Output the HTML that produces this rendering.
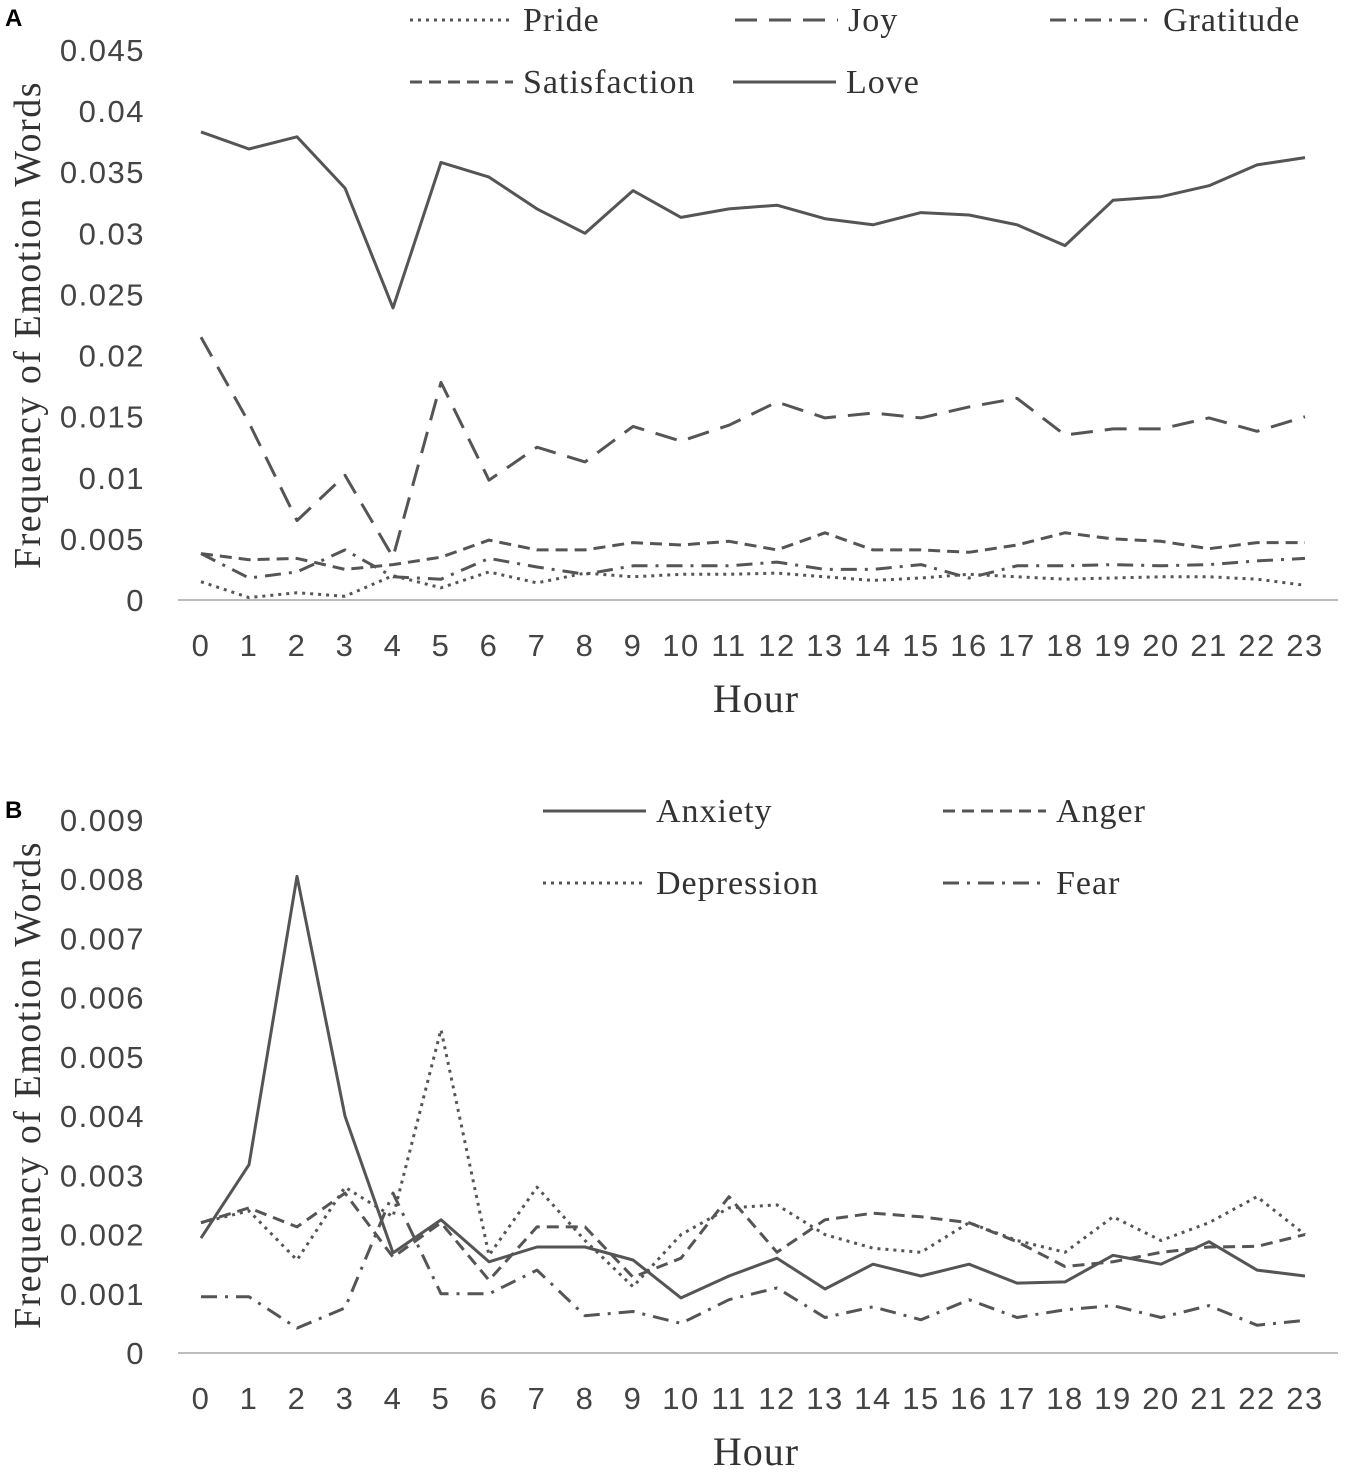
<!DOCTYPE html>
<html><head><meta charset="utf-8"><style>
body{margin:0;background:#fff;}
svg{display:block;}
.tk{font-family:"Liberation Sans",sans-serif;font-size:31px;fill:#444;letter-spacing:1.5px;}
.sr{font-family:"Liberation Serif",serif;fill:#333;}
</style></head><body>
<svg id="chart" width="1355" height="1478" viewBox="0 0 1355 1478"></svg>
<script>
const hours=[0,1,2,3,4,5,6,7,8,9,10,11,12,13,14,15,16,17,18,19,20,21,22,23];
const ticksA=[0,0.005,0.01,0.015,0.02,0.025,0.03,0.035,0.04,0.045];
const tickLabelsA=["0","0.005","0.01","0.015","0.02","0.025","0.03","0.035","0.04","0.045"];
const ticksB=[0,0.001,0.002,0.003,0.004,0.005,0.006,0.007,0.008,0.009];
const tickLabelsB=["0","0.001","0.002","0.003","0.004","0.005","0.006","0.007","0.008","0.009"];
const love=[0.0383,0.0369,0.0379,0.0337,0.0239,0.0358,0.0346,0.032,0.030,0.0335,0.0313,0.032,0.0323,0.0312,0.0307,0.0317,0.0315,0.0307,0.029,0.0327,0.033,0.0339,0.0356,0.0362];
const joy=[0.0215,0.0145,0.0065,0.0102,0.0035,0.0178,0.0098,0.0125,0.0113,0.0142,0.013,0.0143,0.0162,0.0149,0.0153,0.0149,0.0158,0.0165,0.0135,0.014,0.014,0.0149,0.0138,0.015];
const satisfaction=[0.0038,0.0033,0.0034,0.0025,0.0029,0.0035,0.0049,0.0041,0.0041,0.0047,0.0045,0.0048,0.0041,0.0055,0.0041,0.0041,0.0039,0.0045,0.0055,0.005,0.0048,0.0042,0.0047,0.0047];
const gratitude=[0.0038,0.0018,0.0023,0.0041,0.0019,0.0017,0.0034,0.0027,0.0021,0.0028,0.0028,0.0028,0.0031,0.0025,0.0025,0.0029,0.0018,0.0028,0.0028,0.0029,0.0028,0.0029,0.0032,0.0034];
const pride=[0.0015,0.0002,0.0006,0.0003,0.002,0.001,0.0023,0.0014,0.0022,0.0019,0.0021,0.0021,0.0022,0.0019,0.0016,0.0018,0.0021,0.0019,0.0017,0.0018,0.0019,0.0019,0.0017,0.0012];
const anxiety=[0.00194,0.00318,0.00805,0.0040,0.00169,0.00225,0.00154,0.00179,0.00179,0.00157,0.00093,0.0013,0.0016,0.00108,0.0015,0.0013,0.0015,0.00118,0.0012,0.00165,0.0015,0.00188,0.0014,0.0013];
const anger=[0.0022,0.00245,0.00213,0.0027,0.00162,0.0022,0.00123,0.00213,0.00213,0.00128,0.0016,0.00264,0.0017,0.00225,0.00236,0.0023,0.0022,0.00188,0.00146,0.00154,0.0017,0.00179,0.0018,0.002];
const depression=[0.0022,0.0024,0.00157,0.0028,0.0023,0.00546,0.00165,0.0028,0.0019,0.00112,0.002,0.00245,0.0025,0.002,0.00177,0.0017,0.0022,0.0019,0.0017,0.0023,0.0019,0.0022,0.00264,0.002];
const fear=[0.00095,0.00095,0.00042,0.00076,0.0027,0.001,0.001,0.0014,0.00063,0.0007,0.0005,0.0009,0.0011,0.0006,0.00078,0.00056,0.0009,0.0006,0.00073,0.0008,0.0006,0.0008,0.00047,0.00055];

const NS="http://www.w3.org/2000/svg";
const svg=document.getElementById('chart');
function mk(tag,attrs,parent){const e=document.createElementNS(NS,tag);for(const k in attrs)e.setAttribute(k,attrs[k]);(parent||svg).appendChild(e);return e;}
const styles={solid:"",dash:"22 12",shortdash:"12 7",dot:"3 5",dashdot:"16 8 3 8"};
function xOf(h){return 201+h*48;}
function panel(p){
  const yOf=v=>p.y0-v/p.max*(p.y0-p.yTop);
  const g=mk('g',{});
  
  
  const base=mk('line',{x1:178,x2:1338,y1:p.y0,y2:p.y0,stroke:'#bdbdbd','stroke-width':2},g);
  
  
  p.ticks.forEach((t,i)=>{const e=mk('text',{x:145,y:yOf(t)+11,'text-anchor':'end',class:'tk'},g);e.textContent=p.tickLabels[i];
    
    });
  hours.forEach(h=>{const e=mk('text',{x:xOf(h),y:p.y0+56,'text-anchor':'middle',class:'tk'},g);e.textContent=String(h);
    
    });
  const xt=mk('text',{x:756,y:p.y0+112,'text-anchor':'middle',class:'sr','font-size':40,'letter-spacing':1},g);xt.textContent='Hour';
  
  
  const yt=mk('text',{x:0,y:0,'text-anchor':'middle',class:'sr','font-size':38,'letter-spacing':1.5,transform:`translate(40,${p.yMid}) rotate(-90)`},g);yt.textContent='Frequency of Emotion Words';
  
  
  const lt=mk('text',{x:5,y:p.letterY,'font-family':'Liberation Sans, sans-serif','font-weight':'bold','font-size':24,fill:'#000'},g);lt.textContent=p.letter;
  
  
  p.series.forEach(s=>{
    const pts=s.data.map((v,i)=>xOf(hours[i])+','+yOf(v).toFixed(1)).join(' ');
    const pl=mk('polyline',{points:pts,fill:'none',stroke:'#555','stroke-width':3,'stroke-dasharray':styles[s.style],'stroke-linejoin':'round'},g);
    
    
    const le=mk('line',{x1:s.lx,x2:s.lx+103,y1:s.ly,y2:s.ly,stroke:'#555','stroke-width':3,'stroke-dasharray':styles[s.style]},g);
    
    
    const tx=mk('text',{x:s.lx+113,y:s.ly+11,class:'sr','font-size':34,'letter-spacing':1},g);tx.textContent=s.label;
    
    
  });
}
panel({name:'panel-a',y0:600,yTop:50,max:0.045,ticks:ticksA,tickLabels:tickLabelsA,yMid:325,letter:'A',letterY:26,
 series:[{label:'Pride',data:pride,style:'dot',lx:410,ly:20},{label:'Joy',data:joy,style:'dash',lx:735,ly:20},{label:'Gratitude',data:gratitude,style:'dashdot',lx:1050,ly:20},
 {label:'Satisfaction',data:satisfaction,style:'shortdash',lx:410,ly:82},{label:'Love',data:love,style:'solid',lx:733,ly:82}]});
panel({name:'panel-b',y0:1353,yTop:820,max:0.009,ticks:ticksB,tickLabels:tickLabelsB,yMid:1085,letter:'B',letterY:818,
 series:[{label:'Anxiety',data:anxiety,style:'solid',lx:543,ly:811},{label:'Anger',data:anger,style:'shortdash',lx:943,ly:811},
 {label:'Depression',data:depression,style:'dot',lx:543,ly:883},{label:'Fear',data:fear,style:'dashdot',lx:943,ly:883}]});
</script>
</body></html>
